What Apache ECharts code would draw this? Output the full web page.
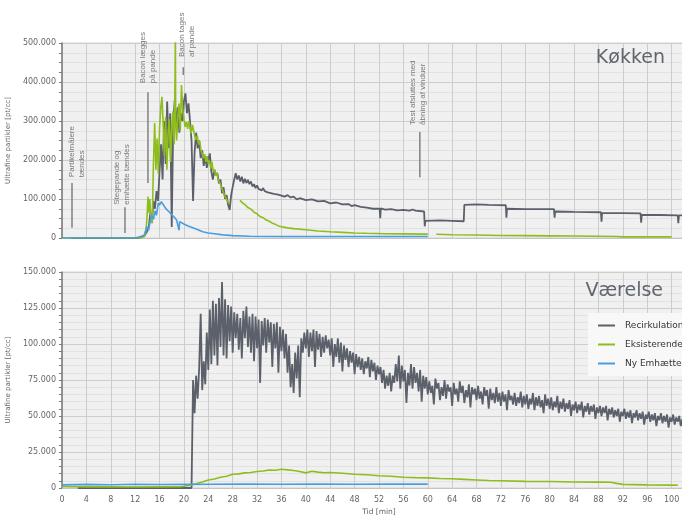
<!DOCTYPE html>
<html><head><meta charset="utf-8">
<script src="https://cdn.jsdelivr.net/npm/echarts@6/dist/echarts.min.js"></script>
<style>html,body{margin:0;padding:0;background:#fff}#c{width:682px;height:520px}</style>
</head><body><div id="c"></div>
<script>
// ---------- DATA ----------
const seriesNames = ['Recirkulationsemhætte', 'Eksisterende emhætte', 'Ny Emhætte'];
const xTickValues = [0,4,8,12,16,20,24,28,32,36,40,44,48,52,56,60,64,68,72,76,80,84,88,92,96,100];

// Køkken – Recirkulation
const kRecBase = [[1.5,0],[12.5,0],[12.75,3000]];
const kRecBurstStart = 13, kRecBurstStep = 0.25;
const kRecBurst = [4000,6000,5000,9000,18000,30000,65000,40000,95000,75000,120000,95000,170000,240000,150000,300000,
  190000,350000,230000,320000,28000,300000,354000,290000,335000,270000,320000,300000,350000,371000,320000,345000,
  300000,250000,95000,220000,270000,230000,250000,205000,225000,185000,210000,180000,200000,217000,170000,150000,
  175000,160000,166000,140000,150000,115000,130000,100000,110000,85000,72000,110000,131000,150000,166000,150000,
  160000,145000,157000,140000,152000,141000,149000,138000,145000,132000,138000,128000,135000,126000,130000,122000,
  128000,120000,125000,117000,122000,115000,120000,113000,118000,112000,116000,110000];
const kRecTail = [[36,112000],[36.5,106000],[37,110000],[37.5,104000],[38,106000],[38.5,99000],[39,102000],[40,97000],
  [41,99000],[42,94000],[43,95000],[44,89000],[45,91000],[46,86000],[47,87000],[47.5,82000],[48,84000],[49,80000],
  [50,78000],[51,75000],[52.1,75000],[52.2,51000],[52.3,76000],[53,73000],[54,74000],[55,71000],[56,72000],[57,70000],
  [57.5,73000],[58,70000],[59.4,68000],[59.5,30000],[59.6,44000],[62,45000],[64,44000],[65.9,43000],[66,85000],
  [68,86000],[70,85000],[72.8,84000],[72.9,52000],[73,75000],[76,74000],[80.7,74000],[80.8,52000],[80.9,68000],
  [84,67000],[88.4,66000],[88.5,42000],[88.6,64000],[92,64000],[94.9,63000],[95,39000],[95.1,59000],[98,59000],
  [101,58000],[101.1,38000],[101.2,58000],[104,57000]];

// Køkken – Eksisterende
const kEks = [[0,0],[13,0],[13.5,3000],[13.8,20000],[14.0,70000],[14.1,106000],[14.25,65000],[14.4,100000],[14.6,50000],
  [14.8,38000],[15.0,190000],[15.2,295000],[15.4,175000],[15.6,255000],[15.8,165000],[16.0,280000],[16.2,335000],
  [16.4,362000],[16.6,290000],[16.8,210000],[17.0,310000],[17.2,175000],[17.4,270000],[17.6,305000],[17.8,195000],
  [18.0,285000],[18.2,325000],[18.4,240000],[18.55,420000],[18.6,520000],[18.65,300000],[18.8,250000],[19.0,310000],
  [19.2,345000],[19.4,275000],[19.6,392000],[19.8,330000],[20.0,305000],[20.2,285000],[20.4,298000],[20.6,280000],
  [20.8,300000],[21.0,282000],[21.2,268000],[21.4,290000],[21.6,275000],[21.8,260000],[22.0,252000],[22.2,262000],
  [22.4,240000],[22.6,248000],[22.8,225000],[23.0,230000],[23.2,205000],[23.4,215000],[23.6,195000],[23.8,210000],
  [24.0,190000],[24.2,198000],[24.4,178000],[24.6,195000],[24.8,170000],[25.0,176000],[25.2,160000],[25.4,168000],
  [25.6,150000],[25.8,145000],[26.0,138000],[26.2,128000],[26.4,120000],[26.6,112000],[26.8,105000],[27.0,100000],
  [27.2,93000],[27.5,88000],[28.3,null],
  [29.2,97000],[29.6,90000],[30.0,86000],[30.5,78000],[31.0,74000],[31.5,66000],[32.0,62000],[32.5,55000],[33.0,52000],
  [33.5,46000],[34.0,43000],[34.5,38000],[35.0,35000],[35.5,31000],[36.0,29000],[37,26000],[38,24000],[40,21000],
  [42,18000],[44,16000],[46,14500],[48,13000],[50,12000],[53,11000],[56,10500],[60,10000],[60.7,null],
  [61.4,9500],[64,8500],[68,7500],[72,6500],[76,6000],[80,5500],[84,5000],[88,4500],[91,4000],[92,3000],[96,3000],[100,2800]];

// Køkken – Ny Emhætte
const kNy = [[0,0],[12,0],[12.5,2000],[13,3000],[13.5,8000],[13.9,29000],[14.2,20000],[14.5,45000],[14.7,59000],
  [15.0,48000],[15.3,70000],[15.5,58000],[15.8,90000],[16.0,84000],[16.3,93000],[16.6,86000],[17.0,76000],[17.5,68000],
  [18.0,60000],[18.5,52000],[18.8,46000],[19.1,44000],[19.2,20000],[19.3,42000],[19.6,40000],[20.0,36000],[20.5,32000],
  [21.0,29000],[22.0,23000],[23.1,16000],[24,13000],[25,11000],[26.4,8000],[28,6000],[30.8,4500],[36,4000],[44,4000],
  [52,4000],[60,4000]];

// Værelse – Recirkulation
const vRecBase = [[2.6,0],[21.25,0]];
const vRecBurstStart = 21.5, vRecBurstStep = 0.25;
const vRecBurst = [75000,52000,78000,62000,83000,121000,68000,88000,72000,108000,82000,124000,86000,130000,92000,128000,
  85000,132000,98000,143000,92000,131000,90000,127000,102000,126000,94000,122000,104000,121000,96000,118000,
  90000,123000,104000,126000,98000,119000,94000,121000,88000,119000,97000,117000,73000,116000,99000,118000,
  94000,117000,101000,115000,84000,114000,97000,115000,80000,112000,95000,110000,90000,107000,80000,99000,
  70000,86000,66000,94000,76000,99000,63000,104000,94000,108000,97000,110000,91000,108000,95000,110000,
  84000,109000,96000,107000,91000,105000,94000,106000,97000,103000,92000,104000,84000,100000,91000,104000,
  87000,101000,81000,99000,89000,97000,84000,95000,87000,94000,79000,93000,84000,91000,82000,90000,
  79000,88000,83000,91000,77000,89000,81000,87000,75000,85000,79000,84000,73000,82000,69000,78000,
  71000,80000,67000,78000,73000,86000,74000,92000,69000,85000,74000,82000,59000,80000,71000,86000,
  69000,84000,73000,80000,67000,82000,60000,78000,69000,77000,65000];
const vRecLateStart = 60.25, vRecLateStep = 0.25;
const vRecLate = [
  74000,66000,71000,58000,76000,69000,73000,61000,
  70000,64000,75000,62000,72000,67000,70000,57000,
  73000,65000,69000,60000,74000,66000,71000,59000,
  68000,63000,72000,56000,70000,65000,69000,61000,
  71000,62000,67000,58000,70000,64000,68000,55000,
  69000,61000,66000,59000,70000,60000,66000,57000,
  67000,60000,65000,54000,68000,61000,64000,58000,
  66000,57000,63000,59000,67000,56000,64000,58000,
  65000,55000,62000,58000,66000,54000,63000,57000,
  64000,56000,61000,52000,65000,57000,62000,55000,
  63000,54000,60000,56000,64000,52000,60000,55000,
  62000,53000,59000,55000,61000,50000,58000,54000,
  60000,52000,58000,54000,60000,49000,57000,53000,
  59000,51000,57000,53000,58000,48000,56000,52000,
  57000,50000,56000,52000,57000,47000,55000,51000,
  56000,49000,54000,50000,55000,46000,53000,50000,
  55000,48000,53000,49000,54000,45000,52000,49000,
  54000,47000,52000,48000,53000,44000,51000,48000,
  53000,46000,51000,47000,52000,43000,50000,47000,
  52000,45000,50000,46000,51000,42000,49000,46000,
  51000,44000,49000,46000,50000,43000,48000,45000,
  50000,45000,48000,44000,49000,46000,48000,45000];

// Værelse – Eksisterende
const vEks = [[0,1000],[4,800],[8,900],[12,700],[16,800],[19.5,900],[20,1200],[21,2000],[22,3000],[23,4200],[24,5500],
  [25,6200],[26,7500],[27,8200],[28,9500],[29,9800],[30,10500],[31,10800],[32,11500],[33,11800],[34,12500],[35,12300],
  [36,13000],[37,12600],[38,12200],[39,11500],[40,10500],[41,11600],[42,11000],[43,10600],[44,10800],[46,10200],
  [48,9500],[50,9200],[52,8500],[54,8200],[56,7500],[58,7200],[60,7000],[62,6600],[64,6400],[66,6000],[68,5600],
  [70,5200],[72,5000],[76,4600],[80,4500],[84,4200],[88,4100],[90,4000],[91,3200],[92,2500],[96,2200],[100,2000],[101,2000]];

// Værelse – Ny Emhætte
const vNy = [[0,2200],[4,2500],[8,2300],[12,2600],[16,2400],[20,2500],[24,2600],[30,2700],[36,2600],[42,2800],
  [48,2600],[54,2700],[60,2700]];

// Annotations (Køkken)
const annText = ['Partikelmålere\ntændes', 'Stegepande og\nemhætte tændes', 'Bacon lægges\npå pande',
  'Bacon tages\naf pande', 'Test afsluttes med\nåbning af vinduer'];
const annLineT = [1.64, 10.33, 14.1, 19.9, 58.7];
const annLineFrom = [26000, 13000, 141000, 418000, 156000];
const annLineTo = [141000, 79000, 374000, 438000, 272000];
const annTextT = [0.82, 8.2, 12.4, 18.8, 56.8];
const annTextV = [156000, 85000, 397000, 464000, 290000];

// ---------- BUILD ----------
function fromStep(start, step, vals) { return vals.map((v, i) => [start + i * step, v]); }
const kRec = kRecBase.concat(fromStep(kRecBurstStart, kRecBurstStep, kRecBurst), kRecTail);
const vRec = vRecBase.concat(fromStep(vRecBurstStart, vRecBurstStep, vRecBurst), fromStep(vRecLateStart, vRecLateStep, vRecLate));

const fmt = v => String(v).replace(/\B(?=(\d{3})+(?!\d))/g, '.');
const colors = ['#5b606a', '#8fbd1d', '#4a9ee0'];
const FONT = 'DejaVu Sans';

function xAxis(idx, labels) {
  return {
    type: 'value', gridIndex: idx, min: 0, max: 104, interval: 4,
    axisLine: { show: true, lineStyle: { color: '#c4c4c4' } },
    axisTick: { show: false },
    axisLabel: { show: labels, fontSize: 8, color: '#666', fontFamily: FONT, margin: 8,
      formatter: v => xTickValues.includes(v) ? String(v) : '' },
    splitLine: { show: true, lineStyle: { color: '#cdcdcd', width: 1 } },
    name: labels ? 'Tid [min]' : '', nameLocation: 'middle', nameGap: 20,
    nameTextStyle: { fontSize: 7.5, color: '#666', fontFamily: FONT }
  };
}
function yAxis(idx, max, interval, minorSplit) {
  return {
    type: 'value', gridIndex: idx, min: 0, max: max, interval: interval,
    axisLine: { show: true, lineStyle: { color: '#7a7a7a', width: 1.5 } },
    axisTick: { show: true, length: 3, lineStyle: { color: '#7a7a7a' } },
    minorTick: { show: true, splitNumber: minorSplit, length: 3, lineStyle: { color: '#7a7a7a' } },
    axisLabel: { fontSize: 8, color: '#666', fontFamily: FONT, margin: 6, formatter: fmt },
    splitLine: { show: true, lineStyle: { color: '#cdcdcd' } },
    minorSplitLine: { show: true, lineStyle: { color: '#e2e2e2' } },
    name: 'Ultrafine partikler [pt/cc]', nameLocation: 'middle', nameRotate: 90, nameGap: 44,
    nameTextStyle: { fontSize: 7, color: '#666', fontFamily: FONT }
  };
}
function line(name, idx, data, color, w) {
  return { name: name, type: 'line', xAxisIndex: idx, yAxisIndex: idx, data: data, showSymbol: false,
    symbol: 'none', connectNulls: false, lineStyle: { color: color, width: w }, itemStyle: { color: color } };
}

const chart = echarts.init(document.getElementById('c'));
chart.setOption({
  animation: false,
  color: colors,
  title: [
    { text: 'Køkken', right: 12, top: 44, textStyle: { fontSize: 19, fontWeight: 'normal', color: '#60656e', fontFamily: FONT } },
    { text: 'Værelse', right: 14, top: 277, textStyle: { fontSize: 19, fontWeight: 'normal', color: '#60656e', fontFamily: FONT } }
  ],
  legend: {
    data: seriesNames, orient: 'vertical', left: 588, top: 313, icon: 'rect', itemWidth: 17, itemHeight: 2,
    itemGap: 10, padding: [8, 10, 8, 10], backgroundColor: '#f8f8f8',
    textStyle: { fontSize: 9, color: '#333', fontFamily: FONT, padding: [0, 0, 0, 5] }
  },
  grid: [
    { left: 62, width: 634, top: 43, height: 195, outerBoundsMode: 'none', containLabel: false, show: true,
      backgroundColor: '#f0f0f0', borderColor: '#d4d4d4', borderWidth: 1 },
    { left: 62, width: 634, top: 272, height: 216, outerBoundsMode: 'none', containLabel: false, show: true,
      backgroundColor: '#f0f0f0', borderColor: '#d4d4d4', borderWidth: 1 }
  ],
  xAxis: [xAxis(0, false), xAxis(1, true)],
  yAxis: [yAxis(0, 500000, 100000, 4), yAxis(1, 150000, 25000, 5)],
  series: [
    line(seriesNames[0], 0, kRec, colors[0], 1.8),
    line(seriesNames[1], 0, kEks, colors[1], 1.6),
    line(seriesNames[2], 0, kNy, colors[2], 1.6),
    line(seriesNames[0], 1, vRec, colors[0], 1.8),
    line(seriesNames[1], 1, vEks, colors[1], 1.6),
    line(seriesNames[2], 1, vNy, colors[2], 1.6)
  ]
});

const gfx = [];
for (let i = 0; i < annText.length; i++) {
  const p1 = chart.convertToPixel({ gridIndex: 0 }, [annLineT[i], annLineFrom[i]]);
  const p2 = chart.convertToPixel({ gridIndex: 0 }, [annLineT[i], annLineTo[i]]);
  gfx.push({ type: 'line', shape: { x1: p1[0], y1: p1[1], x2: p2[0], y2: p2[1] },
    style: { stroke: '#808080', lineWidth: 1.5 }, z: 100 });
  const pt = chart.convertToPixel({ gridIndex: 0 }, [annTextT[i], annTextV[i]]);
  gfx.push({ type: 'text', x: pt[0], y: pt[1], rotation: Math.PI / 2, z: 100,
    style: { text: annText[i], fill: '#7a7a7a', fontSize: 8, fontFamily: 'Liberation Sans', lineHeight: 10,
      align: 'left', verticalAlign: 'top' } });
}
chart.setOption({ graphic: gfx });
</script>
</body></html>
